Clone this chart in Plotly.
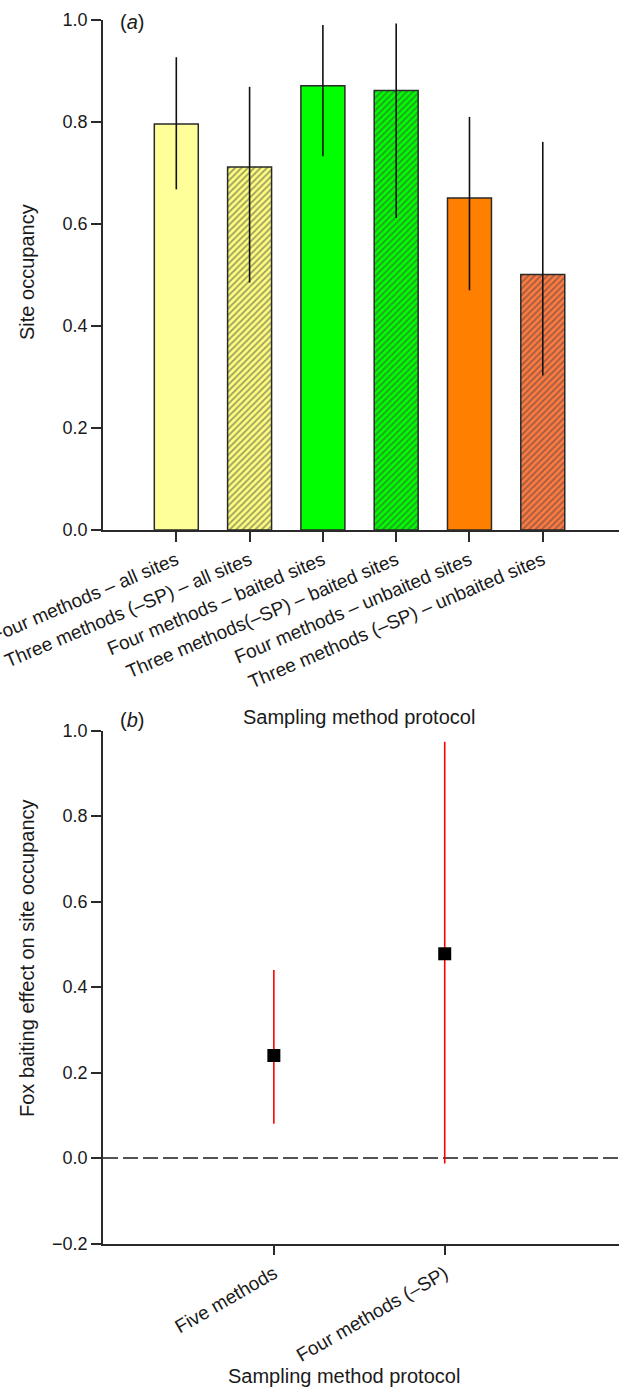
import plotly.graph_objects as go

# ---- Panel (a) data ----
categories_a = [
    "Four methods – all sites",
    "Three methods (–SP) – all sites",
    "Four methods – baited sites",
    "Three methods(–SP) – baited sites",
    "Four methods – unbaited sites",
    "Three methods (–SP) – unbaited sites",
]
occupancy = [0.796, 0.712, 0.871, 0.862, 0.651, 0.501]
occ_upper = [0.927, 0.869, 0.990, 0.993, 0.810, 0.761]
occ_lower = [0.668, 0.485, 0.733, 0.612, 0.470, 0.303]
bar_colors = ["#FFFF99", "#FFFF80", "#00FF00", "#00FF00", "#FF8000", "#FF7A40"]
bar_hatch = ["", "/", "", "/", "", "/"]

# ---- Panel (b) data ----
categories_b = ["Five methods", "Four methods (–SP)"]
effect = [0.240, 0.478]
eff_upper = [0.440, 0.974]
eff_lower = [0.080, -0.013]

W, H = 619, 1388
def px_x(p):
    return p / W
def px_y(p):
    return 1 - p / H

xa = list(range(1, len(categories_a) + 1))
xb = list(range(1, len(categories_b) + 1))

fig = go.Figure()

fig.add_trace(go.Bar(
    x=xa, y=occupancy, width=0.6,
    marker=dict(
        color=bar_colors,
        line=dict(color="#2a2a2a", width=1.5),
        pattern=dict(shape=bar_hatch, fgcolor="#111111", bgcolor=bar_colors,
                     size=4.5, solidity=0.4, fillmode="overlay"),
    ),
    error_y=dict(type="data", symmetric=False,
                 array=[u - v for u, v in zip(occ_upper, occupancy)],
                 arrayminus=[v - l for v, l in zip(occupancy, occ_lower)],
                 color="#111111", thickness=1.6, width=0),
    xaxis="x", yaxis="y", showlegend=False,
))

fig.add_trace(go.Scatter(
    x=xb, y=effect, mode="markers",
    marker=dict(symbol="square", color="black", size=13),
    error_y=dict(type="data", symmetric=False,
                 array=[u - v for u, v in zip(eff_upper, effect)],
                 arrayminus=[v - l for v, l in zip(effect, eff_lower)],
                 color="#FF0000", thickness=1.6, width=0),
    xaxis="x2", yaxis="y2", showlegend=False,
))

def axis_style(size):
    return dict(showline=True, linecolor="#2a2a2a", linewidth=1.5,
                ticks="outside", ticklen=10, tickwidth=1.5, tickcolor="#2a2a2a",
                showgrid=False, zeroline=False, automargin=False,
                ticklabeloverflow="allow",
                tickfont=dict(family="Liberation Sans, Arial", size=size, color="#1a1a1a"))

fig.update_layout(
    template="none",
    width=W, height=H,
    margin=dict(l=0, r=0, t=0, b=0, pad=0),
    paper_bgcolor="white", plot_bgcolor="white",
    font=dict(family="Liberation Sans, Arial", color="#1a1a1a"),
    xaxis=dict(domain=[px_x(103), 1.0], range=[0, 7.04], anchor="y",
               tickvals=xa, ticktext=categories_a, tickangle=-23, **axis_style(19)),
    yaxis=dict(domain=[px_y(530), px_y(20)], range=[0, 1.0], anchor="x",
               tickvals=[0, 0.2, 0.4, 0.6, 0.8, 1.0], tickformat=".1f", **axis_style(18)),
    xaxis2=dict(domain=[px_x(103), 1.0], range=[0, 3.02], anchor="y2",
                tickvals=xb, ticktext=categories_b, tickangle=-30, **axis_style(19)),
    yaxis2=dict(domain=[px_y(1243.5), px_y(730.7)], range=[-0.2, 1.0], anchor="x2",
                tickvals=[-0.2, 0, 0.2, 0.4, 0.6, 0.8, 1.0], tickformat=".1f", **axis_style(18)),
)

fig.add_shape(type="line", xref="x2 domain", yref="y2", x0=0, x1=1, y0=0, y1=0,
              line=dict(color="#1a1a1a", width=1.5, dash="15px,5px"), layer="below")

ann_font = dict(family="Liberation Sans, Arial", size=20, color="#1a1a1a")
fig.add_annotation(text="(<i>a</i>)", xref="paper", yref="paper", x=px_x(118), y=px_y(22),
                   xanchor="left", yanchor="middle", showarrow=False, font=ann_font)
fig.add_annotation(text="(<i>b</i>)", xref="paper", yref="paper", x=px_x(118), y=px_y(720),
                   xanchor="left", yanchor="middle", showarrow=False, font=ann_font)
fig.add_annotation(text="Sampling method protocol", xref="paper", yref="paper",
                   x=px_x(359), y=px_y(717), xanchor="center", yanchor="middle",
                   showarrow=False, font=ann_font)
fig.add_annotation(text="Sampling method protocol", xref="paper", yref="paper",
                   x=px_x(344), y=px_y(1376), xanchor="center", yanchor="middle",
                   showarrow=False, font=ann_font)
fig.add_annotation(text="Site occupancy", xref="paper", yref="paper",
                   x=px_x(27), y=px_y(272), xanchor="center", yanchor="middle",
                   textangle=-90, showarrow=False, font=ann_font)
fig.add_annotation(text="Fox baiting effect on site occupancy", xref="paper", yref="paper",
                   x=px_x(27), y=px_y(958), xanchor="center", yanchor="middle",
                   textangle=-90, showarrow=False, font=ann_font)

fig.write_html("out.html", config={"displayModeBar": False},
               post_script="document.body.style.margin='0';document.body.style.padding='0';")
